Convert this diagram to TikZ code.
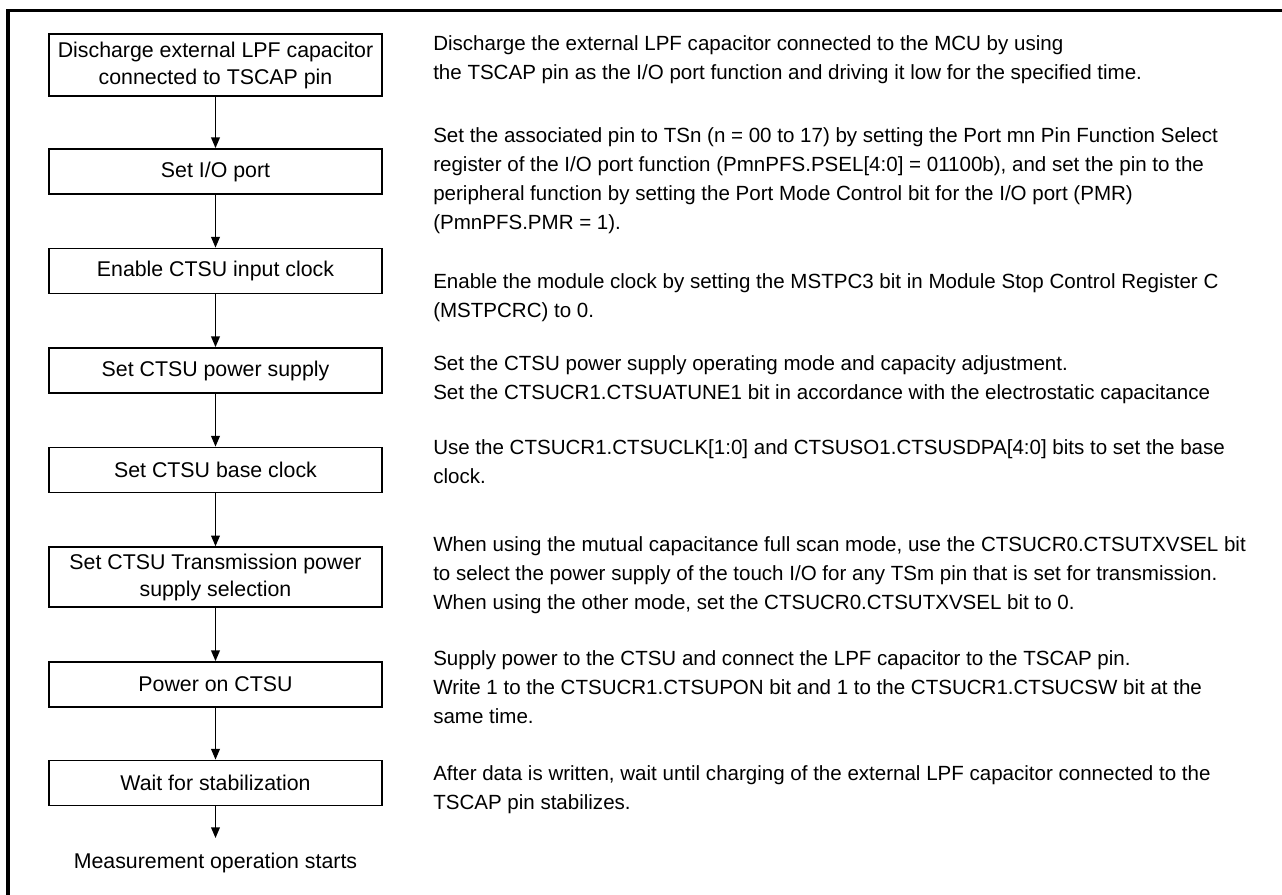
\documentclass[tikz,border=0pt]{standalone}
\usepackage{fontspec}
\setmainfont{Liberation Sans}
\usetikzlibrary{arrows.meta}

\tikzset{
  stepbox/.style={draw,line width=1.1pt,minimum width=249.75pt,align=center,inner sep=0pt,
    font=\fontsize{16}{20.25}\selectfont},
  note/.style={anchor=north west,align=left,inner sep=0pt},
  flow/.style={line width=1.1pt,-{Triangle[length=8pt,width=6.5pt]}}
}

\begin{document}
\begin{tikzpicture}[x=0.75pt,y=-0.75pt,font=\fontsize{15.4}{21.75}\selectfont]
    \useasboundingbox (0,0) rectangle (1282,895);
    \draw[line width=2.3pt] (1282,10.5) -- (8,10.5) -- (8,895);

    % flow steps
    \node[stepbox,minimum height=46.5pt] (s1) at (215.5,65) {Discharge external LPF capacitor\\connected to TSCAP pin};
    \node[stepbox,minimum height=34pt] (s2) at (215.5,171.5) {Set I/O port};
    \node[stepbox,minimum height=34pt] (s3) at (215.5,271) {Enable CTSU input clock};
    \node[stepbox,minimum height=34pt] (s4) at (215.5,370.5) {Set CTSU power supply};
    \node[stepbox,minimum height=34pt] (s5) at (215.5,470) {Set CTSU base clock};
    \node[stepbox,minimum height=45pt] (s6) at (215.5,577) {Set CTSU Transmission power\\supply selection};
    \node[stepbox,minimum height=34pt] (s7) at (215.5,684.5) {Power on CTSU};
    \node[stepbox,minimum height=34pt] (s8) at (215.5,783) {Wait for stabilization};
    \coordinate (e) at (215.5,838);
    \node[font=\fontsize{16}{20.25}\selectfont] (s9) at (215.5,863) {Measurement operation starts};

    \foreach \a/\b in {s1/s2,s2/s3,s3/s4,s4/s5,s5/s6,s6/s7,s7/s8,s8/e}
    \draw[flow] (\a) -- (\b);

    % descriptions
    \node[note] (d1) at (433,35) {Discharge the external LPF capacitor connected to the MCU by using\\the TSCAP pin as the I/O port function and driving it low for the specified time.};
    \node[note] (d2) at (433,127) {Set the associated pin to TSn (n = 00 to 17) by setting the Port mn Pin Function Select\\register of the I/O port function (PmnPFS.PSEL[4:0] = 01100b), and set the pin to the\\peripheral function by setting the Port Mode Control bit for the I/O port (PMR)\\(PmnPFS.PMR = 1).};
    \node[note] (d3) at (433,273) {Enable the module clock by setting the MSTPC3 bit in Module Stop Control Register C\\(MSTPCRC) to 0.};
    \node[note] (d4) at (433,355) {Set the CTSU power supply operating mode and capacity adjustment.\\Set the CTSUCR1.CTSUATUNE1 bit in accordance with the electrostatic capacitance};
    \node[note] (d5) at (433,439) {Use the CTSUCR1.CTSUCLK[1:0] and CTSUSO1.CTSUSDPA[4:0] bits to set the base\\clock.};
    \node[note] (d6) at (433,536) {When using the mutual capacitance full scan mode, use the CTSUCR0.CTSUTXVSEL bit\\to select the power supply of the touch I/O for any TSm pin that is set for transmission.\\When using the other mode, set the CTSUCR0.CTSUTXVSEL bit to 0.};
    \node[note] (d7) at (433,650) {Supply power to the CTSU and connect the LPF capacitor to the TSCAP pin.\\Write 1 to the CTSUCR1.CTSUPON bit and 1 to the CTSUCR1.CTSUCSW bit at the\\same time.};
    \node[note] (d8) at (433,765) {After data is written, wait until charging of the external LPF capacitor connected to the\\TSCAP pin stabilizes.};
\end{tikzpicture}
\end{document}
